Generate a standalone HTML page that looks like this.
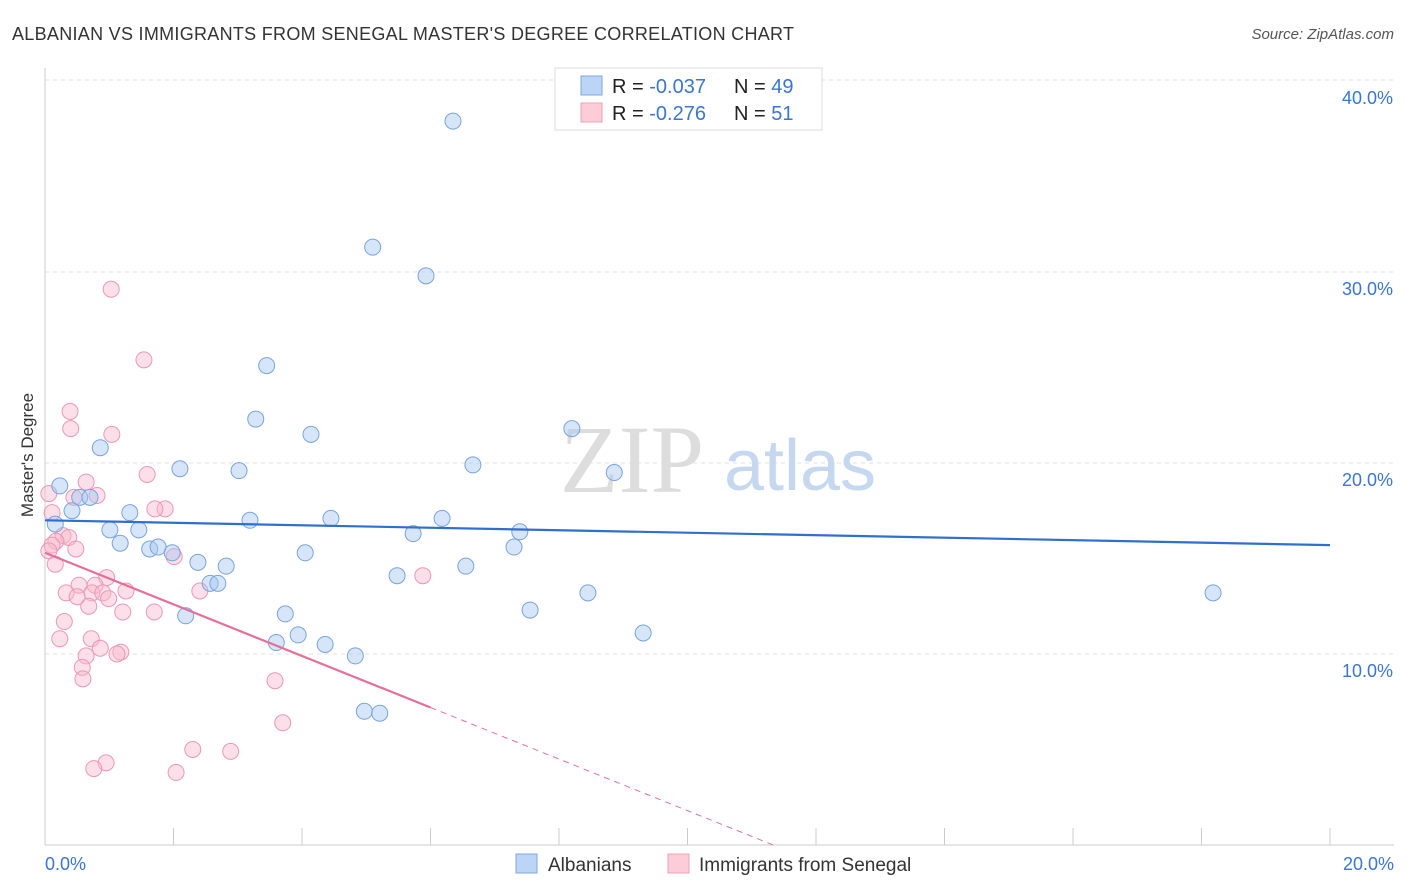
<!DOCTYPE html>
<html><head><meta charset="utf-8"><style>
body{margin:0;background:#fff;font-family:"Liberation Sans",sans-serif;}
svg{display:block}
</style></head><body>
<svg width="1406" height="892">
<text x="12" y="40" font-size="18" fill="#333" textLength="782">ALBANIAN VS IMMIGRANTS FROM SENEGAL MASTER'S DEGREE CORRELATION CHART</text>
<text x="1394" y="39" font-size="15" fill="#555" font-style="italic" text-anchor="end">Source: ZipAtlas.com</text>
<g id="grid"></g>
<text x="632" y="492" font-size="96" fill="#ddd" font-family="Liberation Serif,serif" text-anchor="middle">ZIP</text>
<text x="800" y="490" font-size="72" fill="#c5d8f0" text-anchor="middle">atlas</text>
<line x1="45" y1="68" x2="45" y2="845" stroke="#ccc"/>
<line x1="45" y1="845" x2="1394" y2="845" stroke="#ccc"/>
<text transform="translate(33,455) rotate(-90)" font-size="17" fill="#333" text-anchor="middle">Master's Degree</text>
<text x="45" y="870" font-size="18" fill="#3a75d0">0.0%</text>
<text x="1394" y="870" font-size="18" fill="#3a75d0" text-anchor="end">20.0%</text>
<g id="points"></g>
<g id="trends"></g>
<g>
<rect x="555" y="68" width="267" height="62" fill="#fff" stroke="#ddd"/>
<rect x="581" y="76" width="21" height="19" fill="#bcd4f5" stroke="#7fa8e0"/>
<rect x="581" y="103" width="21" height="19" fill="#fcccd9" stroke="#f0a0bb"/>
<text x="612" y="93" font-size="20" fill="#222">R = <tspan fill="#3a75d0">-0.037</tspan></text>
<text x="734" y="93" font-size="20" fill="#222">N = <tspan fill="#3a75d0">49</tspan></text>
<text x="612" y="120" font-size="20" fill="#222">R = <tspan fill="#3a75d0"> -0.276</tspan></text>
<text x="734" y="120" font-size="20" fill="#222">N = <tspan fill="#3a75d0"> 51</tspan></text>
</g>
<g>
<rect x="516" y="854" width="21" height="19" fill="#bcd4f5" stroke="#7fa8e0"/>
<text x="548" y="871" font-size="19" fill="#333">Albanians</text>
<rect x="668" y="854" width="21" height="19" fill="#fcccd9" stroke="#f0a0bb"/>
<text x="699" y="871" font-size="19" fill="#333">Immigrants from Senegal</text>
</g>
</svg>
<script>
const NS="http://www.w3.org/2000/svg";
const yTicks=[10,20,30,40];
const yTickLabels=["10.0%","20.0%","30.0%","40.0%"];
const xTicks=[0,2,4,6,8,10,12,14,16,18,20];
const albX=[6.35,5.1,5.93,3.45,3.28,4.14,8.2,0.86,2.1,3.02,6.66,8.86,0.23,0.54,0.7,0.42,1.32,0.16,3.19,4.45,6.18,1.01,1.46,5.73,7.39,1.17,1.63,1.76,1.98,4.05,7.3,2.38,2.82,6.55,5.48,2.57,2.69,8.45,18.18,3.74,2.19,7.55,9.31,3.94,3.6,4.36,4.83,4.97,5.21];
const albY=[37.9,31.3,29.8,25.1,22.3,21.5,21.8,20.8,19.7,19.6,19.9,19.5,18.8,18.2,18.2,17.5,17.4,16.8,17.0,17.1,17.1,16.5,16.5,16.3,16.4,15.8,15.5,15.6,15.3,15.3,15.6,14.8,14.6,14.6,14.1,13.7,13.7,13.2,13.2,12.1,12.0,12.3,11.1,11.0,10.6,10.5,9.9,7.0,6.9];
const senX=[1.03,1.54,0.39,0.4,1.04,1.59,0.64,0.06,0.81,0.45,1.87,0.11,0.28,0.37,0.17,0.11,0.48,0.06,2.01,0.16,0.96,0.53,0.78,0.33,0.73,0.9,1.26,2.41,0.99,0.68,1.21,1.7,0.3,0.72,0.23,0.86,1.18,0.64,1.12,0.58,0.59,3.58,5.88,3.7,2.3,2.89,0.95,0.76,2.04,1.71,0.5];
const senY=[29.1,25.4,22.7,21.8,21.5,19.4,19.0,18.4,18.3,18.2,17.6,17.4,16.2,16.1,15.9,15.7,15.5,15.4,15.1,14.7,14.0,13.6,13.6,13.2,13.2,13.2,13.3,13.3,12.9,12.5,12.2,12.2,11.7,10.8,10.8,10.3,10.1,9.9,10.0,9.3,8.7,8.6,14.1,6.4,5.0,4.9,4.3,4.0,3.8,17.6,13.0];
const albTrend=[17.0,15.7];
const senTrend=[15.3,7.2];
const X0=45,X1=1330,Y0=845,PER=19.1;
const sx=v=>X0+(X1-X0)*v/20, sy=v=>Y0-PER*v;
function mk(tag,attrs,parent){const e=document.createElementNS(NS,tag);for(const k in attrs)e.setAttribute(k,attrs[k]);parent.appendChild(e);return e;}
const grid=document.getElementById('grid');
mk('line',{x1:45,x2:1394,y1:80,y2:80,stroke:'#e2e2e2','stroke-dasharray':'4,4'},grid);
yTicks.forEach((t,i)=>{
 if(t<40){const l=mk('line',{x1:45,x2:1394,y1:sy(t),y2:sy(t),stroke:'#e2e2e2','stroke-dasharray':'4,4'},grid);
 
 }
 const tx=mk('text',{x:1393,y:sy(t)+23,'font-size':18,fill:'#3a75d0','text-anchor':'end'},grid);
 tx.textContent=yTickLabels[i];
 
 
});
xTicks.forEach(t=>{
 const l=mk('line',{x1:sx(t),x2:sx(t),y1:828,y2:845,stroke:'#ccc'},grid);
 
 
});
const pts=document.getElementById('points');
senX.forEach((x,i)=>{
 const c=mk('circle',{cx:sx(x),cy:sy(senY[i]),r:8,fill:'rgba(248,185,205,0.45)',stroke:'#eb98b6','stroke-width':1},pts);
 
 
});
albX.forEach((x,i)=>{
 const c=mk('circle',{cx:sx(x),cy:sy(albY[i]),r:8,fill:'rgba(165,197,240,0.45)',stroke:'#78a4e0','stroke-width':1},pts);
 
 
});
const tr=document.getElementById('trends');
const a=mk('line',{x1:sx(0),y1:sy(albTrend[0]),x2:sx(20),y2:sy(albTrend[1]),stroke:'#2f6fcf','stroke-width':2.2},tr);


const sl=(senTrend[1]-senTrend[0])/6;
const s=mk('line',{x1:sx(0),y1:sy(senTrend[0]),x2:sx(6),y2:sy(senTrend[1]),stroke:'#e4709a','stroke-width':2.2},tr);


const xe=6+(0-senTrend[1])/sl;
const d=mk('line',{x1:sx(6),y1:sy(senTrend[1]),x2:sx(xe),y2:sy(0),stroke:'#e4709a','stroke-width':1,'stroke-dasharray':'6,5'},tr);


</script>
</body></html>
